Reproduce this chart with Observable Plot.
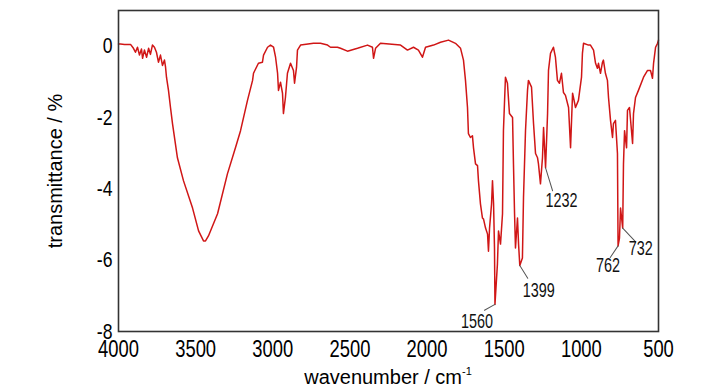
<!DOCTYPE html>
<html>
<head>
<meta charset="utf-8">
<script src="https://cdn.jsdelivr.net/npm/d3@7"></script>
<script src="https://cdn.jsdelivr.net/npm/@observablehq/plot@0.6"></script>
<style>
  html, body { margin: 0; padding: 0; background: #fff; }
  svg { display: block; }
</style>
</head>
<body>
<div id="chart"></div>
<script>
// Wavenumber (cm^-1) and transmittance (%)
const wavenumber = [
  4000, 3987, 3961, 3922, 3903, 3890, 3877, 3864, 3851, 3844, 3832, 3818, 3805, 3793, 3780,
  3767, 3754, 3741, 3728, 3715, 3702, 3695, 3689, 3676, 3663, 3650, 3618, 3579, 3520, 3481,
  3449, 3436, 3417, 3358, 3294, 3242, 3209, 3164, 3131, 3125, 3093, 3067, 3060, 3034, 3015,
  2995, 2982, 2969, 2963, 2950, 2937, 2931, 2918, 2905, 2885, 2866, 2859, 2846, 2840, 2820,
  2736, 2691, 2645, 2626, 2581, 2561, 2516, 2451, 2386, 2354, 2347, 2334, 2302, 2172, 2127,
  2088, 2056, 2030, 2010, 1958, 1913, 1861, 1816, 1783, 1764, 1751, 1738, 1732, 1719, 1706,
  1699, 1686, 1673, 1667, 1654, 1641, 1634, 1621, 1608, 1602, 1595, 1582, 1576, 1569, 1563,
  1560, 1544, 1537, 1524, 1511, 1505, 1492, 1479, 1466, 1446, 1440, 1433, 1427, 1414, 1407,
  1399, 1382, 1375, 1362, 1349, 1343, 1323, 1310, 1297, 1284, 1278, 1265, 1252, 1245, 1232,
  1219, 1213, 1200, 1181, 1168, 1155, 1142, 1129, 1116, 1103, 1083, 1070, 1057, 1051, 1038,
  1019, 999, 993, 986, 954, 941, 921, 908, 896, 889, 876, 863, 857, 844, 831,
  824, 811, 798, 792, 779, 766, 762, 753, 746, 732, 727, 720, 707, 701, 688,
  668, 662, 649, 630, 597, 571, 552, 539, 532, 519, 506, 500
];
const transmittance = [
  0.06, 0.06, 0.05, 0.05, -0.06, -0.17, -0.03, -0.25, -0.08, -0.34, -0.11, -0.31, -0.06, -0.23, 0.03,
  -0.03, -0.17, -0.45, -0.25, -0.54, -0.39, -0.59, -0.87, -1.24, -1.72, -2.17, -3.13, -3.77, -4.54, -5.18,
  -5.46, -5.46, -5.32, -4.70, -3.58, -2.85, -2.37, -1.52, -0.96, -0.76, -0.48, -0.45, -0.25, -0.03, 0.03,
  -0.03, -0.31, -0.76, -1.24, -1.01, -1.32, -1.89, -1.44, -0.76, -0.48, -0.68, -1.04, -0.59, -0.11, 0.03,
  0.08, 0.08, 0.03, -0.03, -0.03, -0.06, -0.14, -0.06, 0.03, -0.03, -0.34, -0.06, 0.08, 0.03, -0.11,
  -0.03, -0.11, -0.31, -0.03, 0.03, 0.11, 0.17, 0.08, -0.06, -0.39, -0.96, -1.72, -2.45, -2.56, -2.51,
  -2.85, -3.30, -3.35, -3.77, -4.42, -4.82, -4.85, -5.10, -5.27, -5.75, -5.10, -4.42, -3.77, -4.42, -5.66,
  -7.24, -6.11, -5.18, -5.55, -4.70, -2.37, -0.87, -1.04, -1.89, -2.00, -3.30, -4.70, -5.66, -4.82, -5.55,
  -6.15, -5.94, -4.25, -2.37, -1.24, -0.96, -1.15, -2.17, -3.01, -3.13, -3.30, -3.86, -3.13, -2.28, -3.41,
  -1.89, -0.68, -0.20, -0.03, -0.31, -0.96, -1.04, -0.76, -1.30, -1.38, -1.72, -2.85, -1.32, -1.44, -1.72,
  -1.52, -0.87, -0.20, 0.08, 0.03, 0.03, -0.11, -0.48, -0.62, -0.48, -0.76, -0.45, -0.39, -0.76, -0.96,
  -1.44, -2.08, -2.56, -2.17, -2.08, -3.01, -5.60, -5.38, -4.54, -5.10, -3.30, -2.37, -2.85, -1.80, -1.72,
  -2.73, -1.89, -1.44, -1.24, -0.87, -0.68, -0.68, -0.90, -0.48, -0.03, 0.08, 0.17
];

// Annotated peaks
const peakWavenumber = [1560, 1399, 1232, 762, 732];
const peakTransmittance = [-7.24, -6.15, -3.41, -5.60, -5.10];
const peakLabels = ["1560", "1399", "1232", "762", "732"];

// Tick values
const xTicks = [4000, 3500, 3000, 2500, 2000, 1500, 1000, 500];
const yTicks = [0, -2, -4, -6, -8];

// Label placement styles (pixel offsets from each peak)
const labelDx = [-18, 19, 16, -10, 18];
const labelDy = [17, 25, 33, 20, 21];
const leaderLength = [12, 15, 24, 14, 19];
const leaderRotate = [241, 148, 163, 214, 137];

const spectrum = wavenumber.map((w, i) => ({wn: w, t: transmittance[i]}));
const peaks = peakWavenumber.map((w, i) => ({
  wn: w, t: peakTransmittance[i], label: peakLabels[i],
  len: leaderLength[i], rot: leaderRotate[i]
}));

const font = "'Liberation Sans', Arial, sans-serif";
const lineShape = {
  draw(context, l) { context.moveTo(0, 0); context.lineTo(0, -l); }
};

const chart = Plot.plot({
  width: 728,
  height: 390,
  marginLeft: 118,
  marginRight: 70,
  marginTop: 10,
  marginBottom: 59,
  style: {fontFamily: font, background: "#fff", color: "#000"},
  x: {domain: [4000, 500]},
  y: {domain: [-8, 1]},
  length: {type: "identity"},
  marks: [
    Plot.axisX({ticks: xTicks, tickSize: 0, tickPadding: 9, fontSize: 23,
      tickFormat: d => String(d), label: null, fill: "#000"}),
    Plot.axisY({ticks: yTicks, tickSize: 0, tickPadding: 6, fontSize: 22,
      tickFormat: d => String(d), label: null, fill: "#000"}),
    Plot.line(spectrum, {x: "wn", y: "t", stroke: "#d01616", strokeWidth: 1.5}),
    Plot.vector(peaks, {x: "wn", y: "t", length: "len", rotate: "rot",
      anchor: "start", shape: lineShape, stroke: "#555", strokeWidth: 1}),
    ...peaks.map((p, i) => Plot.text([p], {x: "wn", y: "t", text: "label",
      dx: labelDx[i], dy: labelDy[i], fontSize: 20, fill: "#111"})),
    Plot.frame({stroke: "#333", strokeWidth: 1.6})
  ]
});

// Narrow the digit labels to match the condensed typeface of the reference
function condense(sel, k) {
  d3.select(chart).selectAll(sel).each(function () {
    const t = d3.select(this);
    const tr = t.attr("transform");
    if (tr) {
      t.attr("transform", tr + ` scale(${k},1)`);
    } else {
      const x = +t.attr("x") || 0, y = +t.attr("y") || 0;
      t.attr("x", null).attr("y", null)
        .attr("transform", `translate(${x},${y}) scale(${k},1)`);
    }
  });
}
condense('g[aria-label="x-axis tick label"] text', 0.8);
condense('g[aria-label="y-axis tick label"] text', 0.8);
condense('g[aria-label="text"] text', 0.72);

const svg = d3.select(chart);
const xl = svg.append("text")
  .attr("x", 388).attr("y", 384)
  .attr("text-anchor", "middle")
  .attr("font-family", font).attr("font-size", 20).attr("fill", "#000")
  .text("wavenumber / cm");
xl.append("tspan").attr("dy", -9).attr("font-size", 11).text("-1");

svg.append("text")
  .attr("transform", "translate(62,171) rotate(-90)")
  .attr("text-anchor", "middle")
  .attr("font-family", font).attr("font-size", 20).attr("fill", "#000")
  .text("transmittance / %");

document.getElementById("chart").appendChild(chart);
</script>
</body>
</html>
